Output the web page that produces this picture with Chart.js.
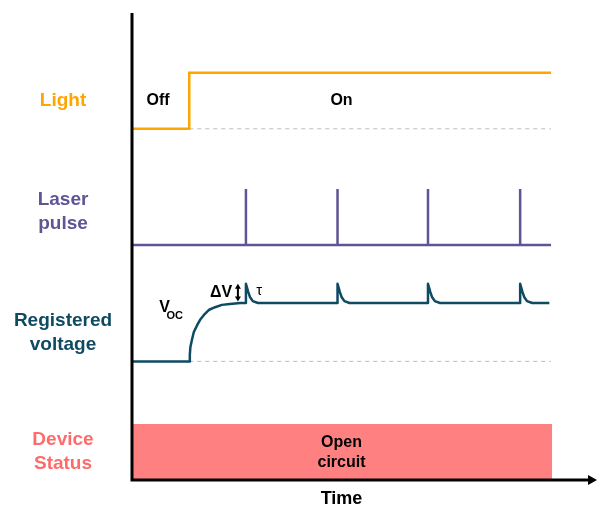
<!DOCTYPE html>
<html>
<head>
<meta charset="utf-8">
<script src="https://cdn.jsdelivr.net/npm/chart.js@4/dist/chart.umd.min.js"></script>
<style>
html,body{margin:0;padding:0;background:#fff;}
#wrap{width:597px;height:508px;}
</style>
</head>
<body>
<div id="wrap"><canvas id="c" width="597" height="508"></canvas></div>
<script>
// ---- data (time in arbitrary units, level in arbitrary units) ----
const lightTime  = [0, 1.00, 1.00, 7.32];
const lightLevel = [75.2, 75.2, 87.2, 87.2];

const laserTime  = [0, 1.99, 1.99, 1.99, 3.59, 3.59, 3.59, 5.17, 5.17, 5.17, 6.78, 6.78, 6.78, 7.32];
const laserLevel = [50.3, 50.3, 62.3, 50.3, 50.3, 62.3, 50.3, 50.3, 62.3, 50.3, 50.3, 62.3, 50.3, 50.3];

const voltageTime  = [0, 1.00, 1.01, 1.02, 1.05, 1.08, 1.14, 1.19, 1.26, 1.34, 1.45, 1.57, 1.71, 1.89, 1.99,
                      1.99, 2.03, 2.06, 2.11, 2.20,
                      3.59, 3.59, 3.63, 3.66, 3.71, 3.80,
                      5.17, 5.17, 5.21, 5.24, 5.29, 5.38,
                      6.78, 6.78, 6.82, 6.85, 6.90, 6.99,
                      7.29];
const voltageLevel = [25.4, 25.4, 26.8, 28.5, 30.2, 31.7, 33.2, 34.3, 35.4, 36.4, 37.0, 37.5, 37.7, 37.9, 37.9,
                      42.0, 40.3, 39.2, 38.3, 37.9,
                      37.9, 42.0, 40.3, 39.2, 38.3, 37.9,
                      37.9, 42.0, 40.3, 39.2, 38.3, 37.9,
                      37.9, 42.0, 40.3, 39.2, 38.3, 37.9,
                      37.9];

const statusTime  = [0, 7.34];
const statusLevel = [12.0, 12.0];

const lightBaseTime  = [1.00, 7.32];
const lightBaseLevel = [75.2, 75.2];
const voltBaseTime   = [1.00, 7.32];
const voltBaseLevel  = [25.4, 25.4];

const rowLabels = [["Light"], ["Laser", "pulse"], ["Registered", "voltage"], ["Device", "Status"]];
const rowLabelLevels = [81.2, 57.4, 31.5, 6.0];
const axisTitle = "Time";

const COL_LIGHT = "#FFA500", COL_LASER = "#5E5596", COL_VOLT = "#0E4A62", COL_STATUS = "#FF6B6B", COL_RECT = "#FF8080";

function pts(xs, ys){ return xs.map((x,i)=>({x:x, y:ys[i]})); }

const annot = {
  id: 'annot',
  afterDraw(chart){
    const ctx = chart.ctx, xs = chart.scales.x, ys = chart.scales.y, ca = chart.chartArea;
    const X = v => xs.getPixelForValue(v), Y = v => ys.getPixelForValue(v);
    const F = "'Liberation Sans', Arial, sans-serif";
    ctx.save();
    // axes
    ctx.strokeStyle = '#000'; ctx.lineWidth = 3; ctx.lineCap = 'butt';
    ctx.beginPath();
    ctx.moveTo(X(0), Y(100)); ctx.lineTo(X(0), Y(0) + 1.5);
    ctx.moveTo(X(0) - 1.5, Y(0)); ctx.lineTo(ca.right, Y(0));
    ctx.stroke();
    ctx.fillStyle = '#000';
    ctx.beginPath();
    ctx.moveTo(ca.right + 7, Y(0)); ctx.lineTo(ca.right - 2, Y(0) - 5); ctx.lineTo(ca.right - 2, Y(0) + 5);
    ctx.closePath(); ctx.fill();

    ctx.textAlign = 'center'; ctx.textBaseline = 'middle';
    // row labels
    const cols = [COL_LIGHT, COL_LASER, COL_VOLT, COL_STATUS];
    ctx.font = "bold 19px " + F;
    rowLabels.forEach((lines, i) => {
      ctx.fillStyle = cols[i];
      const yc = Y(rowLabelLevels[i]);
      lines.forEach((t, j) => ctx.fillText(t, ca.left - 69, yc + (j - (lines.length - 1) / 2) * 24));
    });
    // axis title
    ctx.fillStyle = '#000';
    ctx.font = "bold 18px " + F;
    ctx.fillText(axisTitle, X(3.66), Y(0) + 19);
    // Off / On
    ctx.font = "bold 16px " + F;
    ctx.fillText("Off", X(0.455), Y(81.2));
    ctx.fillText("On", X(3.66), Y(81.2));
    // Open circuit
    ctx.fillText("Open", X(3.66), Y(8.1));
    ctx.fillText("circuit", X(3.66), Y(3.8));
    // V_OC
    ctx.font = "bold 16px " + F;
    ctx.fillText("V", X(0.57), Y(37.0));
    ctx.font = "bold 11px " + F;
    ctx.fillText("OC", X(0.745), Y(35.2));
    // ΔV
    ctx.font = "bold 16px " + F;
    ctx.fillText("\u0394V", X(1.555), Y(40.2));
    // double arrow
    const ax = X(1.85), at = Y(42.0), ab = Y(38.2);
    ctx.lineWidth = 2;
    ctx.beginPath(); ctx.moveTo(ax, at + 4); ctx.lineTo(ax, ab - 4); ctx.stroke();
    ctx.beginPath(); ctx.moveTo(ax, at); ctx.lineTo(ax - 3, at + 5); ctx.lineTo(ax + 3, at + 5); ctx.closePath(); ctx.fill();
    ctx.beginPath(); ctx.moveTo(ax, ab); ctx.lineTo(ax - 3, ab - 5); ctx.lineTo(ax + 3, ab - 5); ctx.closePath(); ctx.fill();
    // tau
    ctx.font = "15px " + F;
    ctx.fillText("\u03C4", X(2.22), Y(40.4));
    ctx.restore();
  }
};

new Chart(document.getElementById('c'), {
  type: 'line',
  data: {
    datasets: [
      { data: pts(lightTime, lightLevel), borderColor: COL_LIGHT, borderWidth: 2.5, pointRadius: 0, fill: false, borderJoinStyle: 'miter' },
      { data: pts(laserTime, laserLevel), borderColor: COL_LASER, borderWidth: 2.5, pointRadius: 0, fill: false, borderJoinStyle: 'miter' },
      { data: pts(voltageTime, voltageLevel), borderColor: COL_VOLT, borderWidth: 2.5, pointRadius: 0, fill: false, borderJoinStyle: 'round' },
      { data: pts(lightBaseTime, lightBaseLevel), borderColor: '#BDBDBD', borderWidth: 1, borderDash: [4, 4], pointRadius: 0, fill: false },
      { data: pts(voltBaseTime, voltBaseLevel), borderColor: '#BDBDBD', borderWidth: 1, borderDash: [4, 4], pointRadius: 0, fill: false },
      { data: pts(statusTime, statusLevel), borderColor: COL_RECT, borderWidth: 0, backgroundColor: COL_RECT, pointRadius: 0, fill: 'origin' }
    ]
  },
  options: {
    responsive: false,
    animation: false,
    devicePixelRatio: 1,
    layout: { padding: { left: 132, right: 7, top: 13, bottom: 28 } },
    plugins: { legend: { display: false }, tooltip: { enabled: false } },
    elements: { line: { tension: 0 } },
    scales: {
      x: { type: 'linear', min: 0, max: 8, display: false },
      y: { type: 'linear', min: 0, max: 100, display: false }
    }
  },
  plugins: [annot]
});
</script>
</body>
</html>
